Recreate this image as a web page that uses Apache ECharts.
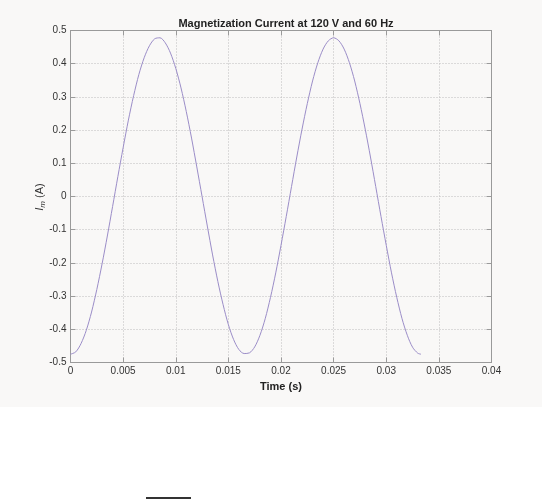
<!DOCTYPE html>
<html>
<head>
<meta charset="utf-8">
<script src="https://cdn.jsdelivr.net/npm/echarts@6/dist/echarts.min.js"></script>
<style>
html,body{margin:0;padding:0;background:#ffffff;}
#chart{width:542px;height:499px;}
</style>
</head>
<body>
<div id="chart"></div>
<script>
// Time samples (s) and magnetization current values (A)
var times = [0,0.0005,0.001,0.0015,0.002,0.0025,0.003,0.0035,0.004,0.0045,0.005,0.0055,0.006,0.0065,0.007,0.0075,0.008,0.0085,0.009,0.0095,0.01,0.0105,0.011,0.0115,0.012,0.0125,0.013,0.0135,0.014,0.0145,0.015,0.0155,0.016,0.0165,0.017,0.0175,0.018,0.0185,0.019,0.0195,0.02,0.0205,0.021,0.0215,0.022,0.0225,0.023,0.0235,0.024,0.0245,0.025,0.0255,0.026,0.0265,0.027,0.0275,0.028,0.0285,0.029,0.0295,0.03,0.0305,0.031,0.0315,0.032,0.0325,0.033,0.0333];
var current = [-0.475,-0.468,-0.443,-0.403,-0.348,-0.280,-0.203,-0.119,-0.030,0.060,0.147,0.230,0.304,0.368,0.418,0.454,0.475,0.478,0.463,0.432,0.386,0.327,0.256,0.176,0.089,0.000,-0.089,-0.176,-0.256,-0.326,-0.386,-0.431,-0.461,-0.473,-0.471,-0.453,-0.418,-0.368,-0.304,-0.230,-0.147,-0.060,0.030,0.119,0.203,0.280,0.348,0.403,0.444,0.469,0.478,0.469,0.444,0.403,0.348,0.280,0.203,0.119,0.030,-0.060,-0.147,-0.230,-0.304,-0.368,-0.418,-0.454,-0.472,-0.475];
var xTicks = {min: 0, max: 0.04, interval: 0.005};
var yTicks = {min: -0.5, max: 0.5, interval: 0.1};
var titleText = 'Magnetization Current at 120 V and 60 Hz';
var xName = 'Time (s)';

var data = times.map(function(t, i){ return [t, current[i]]; });

var chart = echarts.init(document.getElementById('chart'), null, {renderer: 'canvas'});
var font = 'Liberation Sans, Arial, Helvetica, sans-serif';
var axisGray = '#9a9a9a';
var gridStyle = {show: true, lineStyle: {color: '#bdbdbd', type: [1, 2], width: 1}};

var option = {
  backgroundColor: '#ffffff',
  animation: false,
  graphic: [
    {type: 'rect', z: -10, shape: {x: 0, y: 0, width: 542, height: 407}, style: {fill: '#f9f8f7'}},
    {type: 'rect', z: 10, shape: {x: 146, y: 497, width: 45, height: 2}, style: {fill: '#333333'}},
    {type: 'text', z: 10, x: 40, y: 197, rotation: Math.PI / 2, style: {
      text: '{i|I}{m|m}{n| (A)}',
      align: 'center', verticalAlign: 'middle',
      rich: {
        i: {fontFamily: font, fontSize: 11, fontStyle: 'italic', fill: '#333'},
        m: {fontFamily: font, fontSize: 8, fontStyle: 'italic', fill: '#333', verticalAlign: 'bottom', padding: [6, 0, 0, 0]},
        n: {fontFamily: font, fontSize: 11, fill: '#333'}
      }
    }}
  ],
  title: {
    text: titleText,
    left: 281, top: 13, textAlign: 'center',
    textStyle: {fontFamily: font, fontSize: 11, fontWeight: 'bold', color: '#222'}
  },
  grid: {left: 70.5, top: 30.5, right: 50.5, bottom: 136.5, containLabel: false},
  xAxis: [
    {
      type: 'value', position: 'bottom', min: xTicks.min, max: xTicks.max, interval: xTicks.interval,
      name: xName, nameLocation: 'middle', nameGap: 19,
      nameTextStyle: {fontFamily: font, fontSize: 11, fontWeight: 'bold', color: '#222'},
      axisLine: {show: true, onZero: false, lineStyle: {color: axisGray}},
      axisTick: {show: true, inside: true, length: 5, lineStyle: {color: axisGray}},
      axisLabel: {fontFamily: font, fontSize: 10, color: '#333', margin: 4},
      splitLine: gridStyle
    },
    {
      type: 'value', position: 'top', min: xTicks.min, max: xTicks.max, interval: xTicks.interval,
      axisLine: {show: true, onZero: false, lineStyle: {color: axisGray}},
      axisTick: {show: true, inside: true, length: 5, lineStyle: {color: axisGray}},
      axisLabel: {show: false}, splitLine: {show: false}
    }
  ],
  yAxis: [
    {
      type: 'value', position: 'left', min: yTicks.min, max: yTicks.max, interval: yTicks.interval,
      axisLine: {show: true, onZero: false, lineStyle: {color: axisGray}},
      axisTick: {show: true, inside: true, length: 5, lineStyle: {color: axisGray}},
      axisLabel: {fontFamily: font, fontSize: 10, color: '#333', margin: 4,
        formatter: function(v){ return String(Math.round(v * 10) / 10); }},
      splitLine: gridStyle
    },
    {
      type: 'value', position: 'right', min: yTicks.min, max: yTicks.max, interval: yTicks.interval,
      axisLine: {show: true, onZero: false, lineStyle: {color: axisGray}},
      axisTick: {show: true, inside: true, length: 5, lineStyle: {color: axisGray}},
      axisLabel: {show: false}, splitLine: {show: false}
    }
  ],
  series: [{
    type: 'line', data: data, xAxisIndex: 0, yAxisIndex: 0,
    showSymbol: false, smooth: 0.3,
    lineStyle: {color: '#9b8dc8', width: 1}
  }]
};
chart.setOption(option);
</script>
</body>
</html>
